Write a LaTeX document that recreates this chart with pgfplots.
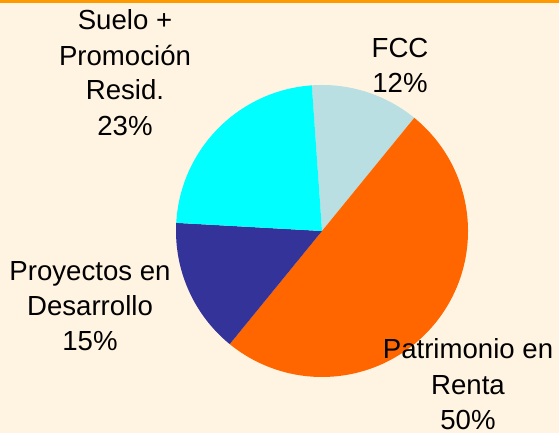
\documentclass[border=0pt]{standalone}
\usepackage{pgfplots}
\pgfplotsset{compat=1.18}
\usepackage{pgfplotstable}
\usepackage{fontspec}
\setmainfont{Liberation Sans}
\definecolor{bgc}{HTML}{FFF4E1}
\definecolor{barc}{HTML}{FF9900}
\definecolor{fccc}{HTML}{B9DFE2}
\definecolor{patc}{HTML}{FF6600}
\definecolor{proc}{HTML}{333399}
\definecolor{suec}{HTML}{00FFFF}
% slice values (percent), clockwise from top
\pgfplotstableread{
idx value
0 12
1 50
2 15
3 23
}\piedata
\def\cum{94}
\pgfplotsforeachungrouped \i in {0,...,3}{%
  \pgfplotstablegetelem{\i}{value}\of\piedata
  \pgfmathsetmacro\tmpa{\cum}%
  \pgfmathsetmacro\tmpb{\cum-3.6*\pgfplotsretval}%
  \expandafter\xdef\csname sA\i\endcsname{\tmpa}%
  \expandafter\xdef\csname sB\i\endcsname{\tmpb}%
  \xdef\cum{\tmpb}%
}
\newcommand\slice[2]{%
  \fill[#2] (axis cs:322,202) -- ++(\csname sA#1\endcsname:146bp)
    arc[start angle=\csname sA#1\endcsname, end angle=\csname sB#1\endcsname, radius=146bp] -- cycle;}
\begin{document}
\begin{tikzpicture}
\begin{axis}[
  at={(0,0)}, anchor=south west,
  x=1bp, y=1bp, scale only axis,
  xmin=0, xmax=559, ymin=0, ymax=433,
  hide axis, clip=false,
]
\fill[bgc] (axis cs:0,0) rectangle (axis cs:559,433);
\fill[barc] (axis cs:0,430) rectangle (axis cs:559,433);
\slice{0}{fccc}
\slice{1}{patc}
\slice{2}{proc}
\slice{3}{suec}
\begin{scope}[every node/.style={anchor=base, inner sep=0pt, font=\fontsize{27.6bp}{33bp}\selectfont}]
\node at (axis cs:125,403) {Suelo +};
\node at (axis cs:125,367) {Promoción};
\node at (axis cs:125,333) {Resid.};
\node at (axis cs:125,297) {23\%};
\node at (axis cs:400,375) {FCC};
\node at (axis cs:400,340) {12\%};
\node at (axis cs:90,152) {Proyectos en};
\node at (axis cs:90,117) {Desarrollo};
\node at (axis cs:90,82) {15\%};
\node at (axis cs:468,74) {Patrimonio en};
\node at (axis cs:468,38) {Renta};
\node at (axis cs:468,3) {50\%};
\end{scope}
\end{axis}
\end{tikzpicture}
\end{document}
